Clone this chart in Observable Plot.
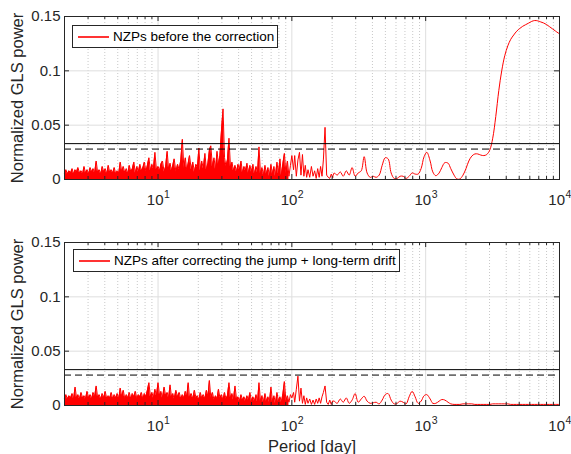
<!DOCTYPE html>
<html><head><meta charset="utf-8">
<script src="https://cdn.jsdelivr.net/npm/d3@7"></script>
<script src="https://cdn.jsdelivr.net/npm/@observablehq/plot@0.6"></script>
<style>
html,body{margin:0;padding:0;background:#fff;}
#wrap{position:relative;width:571px;height:454px;overflow:hidden;font-family:"Liberation Sans",Arial,Helvetica,sans-serif;}
.panel{position:absolute;left:0;}
.legend{position:absolute;background:#fff;border:1px solid #262626;box-sizing:border-box;font-size:13.5px;color:#000;white-space:nowrap;}
.legend svg{position:absolute;left:5px;top:0;}
.legend .tx{position:absolute;left:40px;top:50%;transform:translateY(-52%);line-height:1;}
</style></head><body>
<div id="wrap"></div>
<script>
// Period grid (days), shared by both periodograms
const periods = [
  2.00, 2.05, 2.10, 2.16, 2.22, 2.28, 2.34, 2.40, 2.46, 2.52,
  2.59, 2.66, 2.73, 2.80, 2.87, 2.95, 3.03, 3.11, 3.19, 3.27,
  3.36, 3.45, 3.54, 3.63, 3.73, 3.83, 3.93, 4.03, 4.14, 4.25,
  4.36, 4.47, 4.59, 4.71, 4.83, 4.96, 5.09, 5.22, 5.36, 5.50,
  5.65, 5.80, 5.95, 6.10, 6.26, 6.43, 6.60, 6.77, 6.95, 7.13,
  7.32, 7.51, 7.71, 7.91, 8.12, 8.33, 8.55, 8.77, 9.00, 9.24,
  9.48, 9.73, 10.0,
  10.3, 10.5, 10.8, 11.1, 11.4, 11.7, 12.0, 12.3, 12.6, 12.9,
  13.2, 13.6, 14.0, 14.4, 14.8, 15.2, 15.6, 16.0, 16.4, 16.8,
  17.2, 17.7, 18.2, 18.7, 19.2, 19.7, 20.2, 20.7, 21.2, 21.8,
  22.4, 23.0, 23.6, 24.2, 24.8, 25.5, 26.2, 26.9, 27.6, 28.3,
  29.0, 29.8, 30.6, 31.4, 32.2, 33.0, 33.9, 34.8, 35.7, 36.6,
  37.6, 38.6, 39.6, 40.6, 41.7, 42.8, 43.9, 45.0, 46.2, 47.4,
  48.6, 49.9, 51.2, 52.6, 54.0, 55.4, 56.8, 58.3, 59.8, 61.4,
  63.0, 64.6, 66.3, 68.0, 69.8, 71.6, 73.5, 75.4, 77.4, 79.4,
  81.5, 83.6, 85.8, 88.0, 90.3, 92.7, 95.1, 97.6, 100,
  103, 105, 108, 111, 114, 117, 120, 123, 126, 129,
  132, 136, 140, 144, 148, 152, 156, 160, 164, 168,
  172, 177, 182, 187, 192, 197, 202,
  207, 218, 230, 242, 255, 268, 282, 297, 313, 330,
  347, 365, 385, 405, 426, 449, 473, 498, 524, 552,
  581, 612, 644, 678, 714, 752, 792, 834, 878, 924,
  973, 1020, 1080, 1130, 1190, 1260, 1320, 1390, 1470, 1540,
  1630, 1710, 1800, 1900, 2000, 2100, 2210, 2330, 2450, 2580,
  2720, 2860, 3010, 3170, 3340, 3520, 3700, 3900, 4110, 4320,
  4550, 4790, 5050, 5310, 5590, 5890, 6200, 6530, 6870, 7240,
  7620, 8020, 8450, 8890, 9360, 10000
];

// Normalized GLS power, in units of 1e-3 — before the correction
const powerBefore = [
  6, 9, 5, 8, 6, 10, 5, 9, 7, 11,
  6, 8, 5, 12, 6, 9, 5, 11, 7, 10,
  6, 17, 6, 9, 5, 12, 7, 10, 5, 13,
  6, 9, 6, 11, 5, 8, 6, 16, 7, 12,
  6, 10, 5, 13, 7, 10, 16, 6, 12, 7,
  14, 8, 11, 16, 7, 13, 20, 8, 14, 10,
  25, 9, 12,
  8, 14, 17, 7, 12, 26, 9, 15, 8, 13,
  19, 7, 14, 9, 18, 37, 10, 20, 8, 15,
  22, 9, 16, 7, 14, 11, 29, 8, 17, 10,
  24, 9, 15, 27, 31, 12, 20, 9, 26, 14,
  22, 45, 65, 20, 12, 18, 38, 11, 16, 8,
  13, 7, 14, 9, 17, 6, 12, 8, 15, 6,
  13, 7, 14, 5, 12, 6, 30, 5, 11, 4,
  13, 5, 11, 3, 14, 5, 12, 3, 16, 5,
  19, 4, 15, 24, 5, 17, 3, 13, 22,
  9, 22, 3, 18, 25, 4, 23, 3, 13, 2,
  9, 2, 12, 3, 8, 1, 10, 2, 12, 3,
  18, 48, 4, 2, 1, 5, 2,
  6, 4, 7, 3, 8, 4, 11, 3, 6, 8,
  21, 6, 2, 3, 2, 4, 13, 20, 19, 6,
  1, 1, 3, 3, 1, 3, 6, 5, 5, 10,
  21, 25, 17, 7, 3.5, 6, 11, 15.5, 15, 10,
  4, 0.5, 0.5, 4, 10, 17, 21.5, 23.5, 23.5, 22.5,
  22, 23, 27, 38, 58, 82, 100, 114, 123, 129,
  133, 136.5, 139, 141, 142.5, 144, 145.5, 146.3, 146, 145,
  144, 142.5, 140.5, 138.5, 136.5, 134
];

// Normalized GLS power, in units of 1e-3 — after correcting the jump + long-term drift
const powerAfter = [
  7, 10, 6, 9, 7, 11, 6, 17, 7, 10,
  6, 12, 7, 9, 6, 13, 7, 10, 6, 12,
  8, 18, 7, 10, 6, 11, 7, 13, 6, 9,
  7, 12, 6, 10, 7, 11, 6, 16, 8, 14,
  6, 10, 7, 12, 6, 11, 8, 13, 6, 10,
  8, 12, 6, 11, 8, 14, 21, 8, 12, 7,
  15, 9, 21,
  8, 13, 7, 17, 9, 12, 7, 19, 8, 11,
  6, 14, 8, 12, 6, 10, 7, 13, 8, 21,
  7, 11, 6, 14, 7, 9, 5, 12, 7, 10,
  6, 14, 8, 23, 7, 12, 5, 9, 6, 15,
  7, 10, 5, 12, 6, 9, 21, 7, 11, 5,
  18, 6, 8, 4, 10, 5, 8, 4, 9, 5,
  12, 4, 8, 4, 10, 3, 21, 4, 9, 3,
  11, 4, 8, 3, 17, 4, 9, 2, 12, 4,
  8, 3, 11, 22, 4, 9, 3, 10, 7,
  12, 3, 15, 27, 4, 16, 2, 9, 1, 7,
  2, 6, 1, 5, 1, 6, 2, 7, 2, 8,
  12, 18, 3, 1, 5, 1, 4,
  4, 2, 6, 3, 7, 2, 5, 11, 3, 6,
  8.5, 4, 2, 2.5, 3, 1.5, 5, 10, 11, 5,
  1.5, 2, 4, 3, 1.5, 8, 13, 8, 2, 4,
  9, 10, 6, 2, 2, 4, 5.5, 5, 3, 1.5,
  1, 1, 1, 1.5, 1.5, 1.5, 1.5, 1, 1, 1,
  1, 1, 1, 1.5, 1.5, 1.5, 1.5, 1.5, 1.5, 1,
  1, 1, 1, 1, 1, 1, 1, 1, 1, 1,
  1, 1, 1, 1, 1, 1
];

const thresholdSolid = 0.033;
const thresholdDashed = 0.028;
const xMajor = [10, 100, 1000, 10000];
const xMinor = [3, 4, 5, 6, 7, 8, 9, 20, 30, 40, 50, 60, 70, 80, 90,
                200, 300, 400, 500, 600, 700, 800, 900, 2000, 3000, 4000, 5000, 6000, 7000, 8000, 9000];
const yTicks = [0, 0.05, 0.1, 0.15];
const yTickLabels = ["0", "0.05", "0.1", "0.15"];
const legendTop = "NZPs before the correction";
const legendBottom = "NZPs after correcting the jump + long-term drift";
const xLabel = "Period [day]";
const yLabel = "Normalized GLS power";

const FONT = '"Liberation Sans", Arial, Helvetica, sans-serif';
const wrap = document.getElementById("wrap");

function panel(values, top, height, mb, legendText, legendBox, showXLabel) {
  const rows = periods.map((p, i) => ({p, v: values[i] / 1000}));
  const filled = rows.filter(d => d.p <= 95.1);
  const dense = rows.filter(d => d.p <= 202);
  const smooth = rows.filter(d => d.p >= 202);
  const W = 571, ML = 64, MR = 12, MT = 16;
  const plotH = height - MT - mb, plotW = W - ML - MR;
  const ink = "#262626";
  const marks = [
    Plot.ruleX(xMinor, {x: d => d, stroke: "#9a9a9a", strokeOpacity: 0.55, strokeDasharray: "1,2"}),
    Plot.ruleX(xMajor.slice(0, 3), {x: d => d, stroke: "#dedede"}),
    Plot.ruleY([0.05, 0.1], {y: d => d, stroke: "#dedede"}),
    Plot.areaY(filled, {x: "p", y: "v", fill: "#ff0000"}),
    Plot.lineY(dense, {x: "p", y: "v", stroke: "#ff0000", strokeWidth: 1}),
    Plot.lineY(smooth, {x: "p", y: "v", stroke: "#ff0000", strokeWidth: 1, curve: "catmull-rom", clip: true}),
    Plot.ruleY([thresholdSolid], {y: d => d, stroke: "#000", strokeWidth: 1}),
    Plot.ruleY([thresholdDashed], {y: d => d, stroke: "#000", strokeWidth: 1, strokeDasharray: "7,4"}),
    Plot.frame({stroke: ink}),
    Plot.tickX(xMajor, {x: d => d, stroke: ink, insetTop: plotH - 5}),
    Plot.tickX(xMajor, {x: d => d, stroke: ink, insetBottom: plotH - 5}),
    Plot.tickX(xMinor, {x: d => d, stroke: ink, insetTop: plotH - 3}),
    Plot.tickX(xMinor, {x: d => d, stroke: ink, insetBottom: plotH - 3}),
    Plot.tickY(yTicks, {y: d => d, stroke: ink, insetRight: plotW - 5}),
    Plot.tickY(yTicks, {y: d => d, stroke: ink, insetLeft: plotW - 5}),
    Plot.text(yTicks, {y: d => d, text: (d, i) => yTickLabels[i], frameAnchor: "left", textAnchor: "end", dx: -4, fontSize: 15, fill: ink}),
    Plot.text(xMajor, {x: d => d, text: () => "10", frameAnchor: "bottom", textAnchor: "end", dx: 5.5, dy: 25, lineAnchor: "bottom", fontSize: 15, fill: ink}),
    Plot.text(xMajor, {x: d => d, text: d => String(Math.round(Math.log10(d))), frameAnchor: "bottom", textAnchor: "start", dx: 6, dy: 18, lineAnchor: "bottom", fontSize: 10.5, fill: ink}),
    Plot.text([yLabel], {text: d => d, frameAnchor: "left", textAnchor: "middle", rotate: -90, dx: -42, lineAnchor: "bottom", fontSize: 16.5, fill: ink})
  ];
  if (showXLabel) {
    marks.push(Plot.text([xLabel], {text: d => d, frameAnchor: "bottom", textAnchor: "middle", dy: 46.5, lineAnchor: "bottom", fontSize: 16.5, fill: ink}));
  }
  const svg = Plot.plot({
    width: W, height, marginLeft: ML, marginRight: MR, marginTop: MT, marginBottom: mb,
    style: {fontFamily: FONT, background: "transparent", overflow: "visible", color: ink},
    x: {type: "log", domain: [2, 10000], axis: null},
    y: {domain: [0, 0.15], axis: null},
    marks
  });
  svg.classList.add("panel");
  svg.style.top = top + "px";
  wrap.appendChild(svg);

  const lg = document.createElement("div");
  lg.className = "legend";
  lg.style.left = legendBox[0] + "px";
  lg.style.top = legendBox[1] + "px";
  lg.style.width = legendBox[2] + "px";
  lg.style.height = legendBox[3] + "px";
  const inner = legendBox[3] - 2;
  const mid = Math.round(inner / 2);
  lg.innerHTML = `<svg width="31" height="${inner}"><line x1="0" x2="31" y1="${mid}" y2="${mid}" stroke="#ff0000" stroke-width="1.6"/></svg><div class="tx"></div>`;
  lg.querySelector(".tx").textContent = legendText;
  wrap.appendChild(lg);
}

panel(powerBefore, 0, 215, 36, legendTop, [72, 25, 206, 23], false);
panel(powerAfter, 226, 228, 49, legendBottom, [73, 249, 327, 23], true);
</script>
</body></html>
